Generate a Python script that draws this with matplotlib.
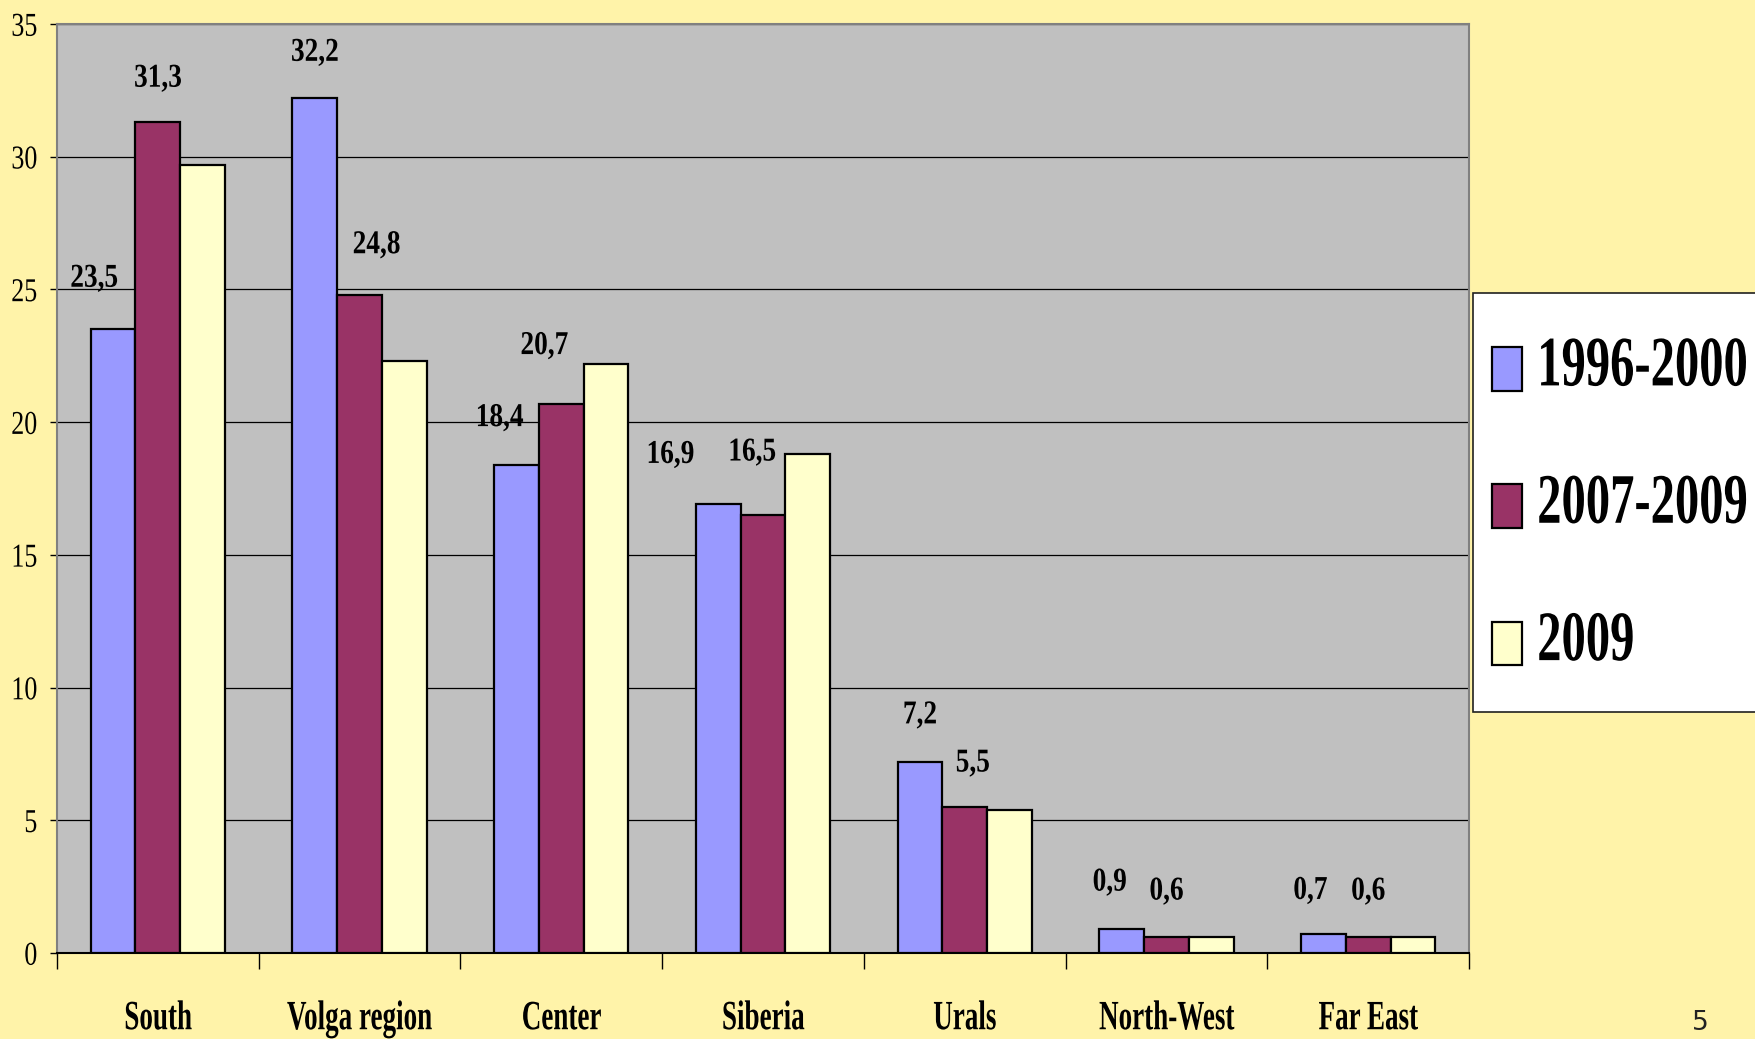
import matplotlib
matplotlib.use('Agg')
import matplotlib.pyplot as plt
import numpy as np
from matplotlib.patheffects import AbstractPathEffect
from matplotlib.transforms import Affine2D
from matplotlib.font_manager import FontProperties
from matplotlib.patches import Rectangle

# ---------------- data ----------------
categories = ['South', 'Volga region', 'Center', 'Siberia', 'Urals', 'North-West', 'Far East']
series_names = ['1996-2000', '2007-2009', '2009']
v_1996_2000 = [23.5, 32.2, 18.4, 16.9, 7.2, 0.9, 0.7]
v_2007_2009 = [31.3, 24.8, 20.7, 16.5, 5.5, 0.6, 0.6]
v_2009 = [29.7, 22.3, 22.2, 18.8, 5.4, 0.6, 0.6]
y_ticks = [0, 5, 10, 15, 20, 25, 30, 35]
page_number = '5'

# label nudges (pixels) for the value labels of the first two series
nudge_dx_1 = [-19, 0, -17, -48, 0, -12, -13]
nudge_dy_1 = [51, 46, 47, 50, 47, 47, 44]
nudge_dx_2 = [0, 17, -17, -11, 8, 0, 0]
nudge_dy_2 = [44, 50, 58, 63, 44, 46, 46]

# ---------------- style ----------------
W, H = 1755, 1039
BG = '#FFF3A9'
PLOT_BG = '#C0C0C0'
colors = ['#9999FF', '#993366', '#FFFFCC']
SERIF = 'Liberation Serif'


class GlyphScale(AbstractPathEffect):
    """Scale text glyphs (narrow / tall Times look) about the text anchor."""
    def __init__(self, sx=1.0, sy=1.0, ha='center'):
        super().__init__()
        self.sx = sx
        self.sy = sy
        self.ha = ha

    def draw_path(self, renderer, gc, tpath, affine, rgbFace=None):
        ext = tpath.get_extents()
        if self.ha == 'center':
            cx = (ext.x0 + ext.x1) / 2
        elif self.ha == 'right':
            cx = ext.x1
        else:
            cx = ext.x0
        pre = Affine2D().translate(-cx, 0).scale(self.sx, self.sy).translate(cx, 0)
        renderer.draw_path(gc, tpath, pre + affine, rgbFace)


fig = plt.figure(figsize=(W / 100, H / 100), dpi=100, facecolor=BG)
ax = fig.add_axes([57 / W, (H - 953) / H, (1469 - 57) / W, (953 - 24) / H])
ax.set_facecolor(PLOT_BG)

x = np.arange(len(categories))
width = 0.222
all_series = [v_1996_2000, v_2007_2009, v_2009]
containers = []
for k, (vals, col) in enumerate(zip(all_series, colors)):
    c = ax.bar(x + (k - 1) * width, vals, width, color=col, edgecolor='black',
               linewidth=1.6, zorder=3, label=series_names[k])
    containers.append(c)

ax.set_xlim(-0.5, len(categories) - 0.5)
ax.set_ylim(0, 35)
ax.set_yticks(y_ticks)
ax.grid(axis='y', color='black', linewidth=0.9)
ax.set_axisbelow(True)

for side in ['left', 'top', 'right']:
    ax.spines[side].set_color('#808080')
    ax.spines[side].set_linewidth(1.5)
ax.spines['bottom'].set_color('black')
ax.spines['bottom'].set_linewidth(1.5)

# x axis: category labels + boundary ticks
ax.set_xticks(x)
ax.set_xticklabels(categories, fontfamily=SERIF, fontweight='bold', fontsize=30)
ax.set_xticks(np.arange(-0.5, len(categories), 1.0), minor=True)
ax.tick_params(axis='x', which='major', length=0, pad=34)
ax.tick_params(axis='x', which='minor', length=11.5, width=1, color='black')
for lab in ax.get_xticklabels():
    lab.set_path_effects([GlyphScale(0.65, 1.0, 'center')])

# y axis
ax.tick_params(axis='y', length=5, width=1, color='black', pad=9)
for lab in ax.get_yticklabels():
    lab.set_fontfamily(SERIF)
    lab.set_fontsize(24)
    lab.set_path_effects([GlyphScale(0.78, 1.0, 'right')])


def fmt(v):
    return f'{v:.1f}'.replace('.', ',')


for k, (vals, dxs, dys) in enumerate([(v_1996_2000, nudge_dx_1, nudge_dy_1),
                                      (v_2007_2009, nudge_dx_2, nudge_dy_2)]):
    for i, v in enumerate(vals):
        ax.annotate(fmt(v), xy=(x[i] + (k - 1) * width, v), xytext=(dxs[i], dys[i]),
                    textcoords='offset pixels', ha='center', va='center',
                    fontsize=24, fontweight='bold', fontfamily=SERIF,
                    path_effects=[GlyphScale(0.82, 1.0, 'center')], zorder=5,
                    annotation_clip=False)

# legend box (runs off the right edge like the reference)
fig.patches.append(Rectangle((1473 / W, 1 - 712 / H), (W - 1473 + 20) / W, (712 - 293) / H,
                             transform=fig.transFigure, facecolor='white',
                             edgecolor='#202020', linewidth=1.2, zorder=1))

leg = fig.legend(containers, series_names, loc='upper left',
                 bbox_to_anchor=(1492 / W, 1 - 347 / H), bbox_transform=fig.transFigure,
                 prop=FontProperties(family=SERIF, weight='bold', size=35),
                 handlelength=0.62, handleheight=1.0, handletextpad=0.31,
                 labelspacing=1.83, borderpad=0, borderaxespad=0,
                 frameon=False)
leg.set_zorder(6)
for t in leg.get_texts():
    t.set_path_effects([GlyphScale(1.0, 1.46, 'left')])

fig.text(1700 / W, 1 - 1023 / H, page_number, fontsize=19, fontfamily='DejaVu Sans',
         color='#222222', ha='center', va='center')

fig.savefig('out.png', dpi=100, facecolor=fig.get_facecolor())
